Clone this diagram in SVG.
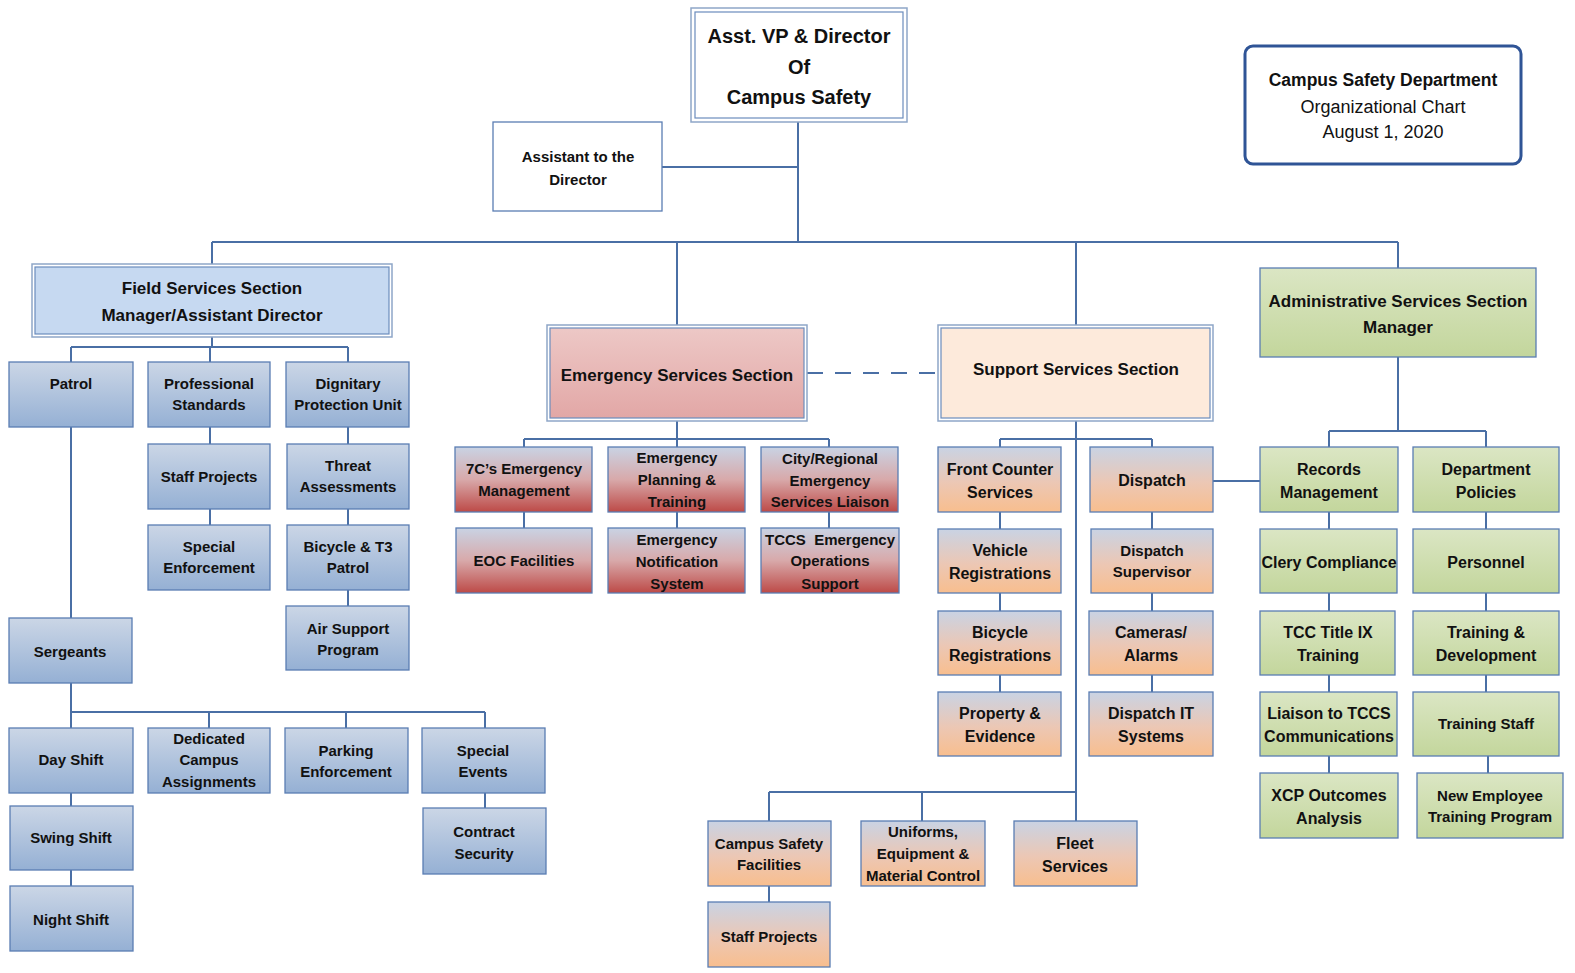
<svg xmlns="http://www.w3.org/2000/svg" width="1575" height="973" viewBox="0 0 1575 973">
<defs>
<linearGradient id="gBlue" x1="0" y1="0" x2="0" y2="1"><stop offset="0" stop-color="#cbd6e6"/><stop offset="1" stop-color="#95b0d4"/></linearGradient>
<linearGradient id="gRed" x1="0" y1="0" x2="0" y2="1"><stop offset="0" stop-color="#c9d3e4"/><stop offset="0.5" stop-color="#d8a9aa"/><stop offset="1" stop-color="#bd4a47"/></linearGradient>
<linearGradient id="gOrange" x1="0" y1="0" x2="0" y2="1"><stop offset="0" stop-color="#c9d3e4"/><stop offset="0.55" stop-color="#ecc7b4"/><stop offset="1" stop-color="#f8be8e"/></linearGradient>
<linearGradient id="gGreen" x1="0" y1="0" x2="0" y2="1"><stop offset="0" stop-color="#dbe6c4"/><stop offset="1" stop-color="#c3d69c"/></linearGradient>
<linearGradient id="gPink" x1="0" y1="0" x2="0" y2="1"><stop offset="0" stop-color="#edc8c6"/><stop offset="1" stop-color="#e2a7a6"/></linearGradient>
</defs>
<style>
text{font-family:"Liberation Sans",Arial,sans-serif;font-weight:bold;fill:#111;text-anchor:middle}
.s{font-size:15px}
.m{font-size:16px}
.h{font-size:17px}
.t{font-size:20px}
.r{font-weight:normal}
.box{stroke:#5a7db3;stroke-width:1.3}
.blue{fill:url(#gBlue)}
.red{fill:url(#gRed)}
.org{fill:url(#gOrange)}
.grn{fill:url(#gGreen)}
.outer{fill:none;stroke:#8ea6c8;stroke-width:1.5}
.inner{stroke:#6b8cbd;stroke-width:1.2}
#connectors path{fill:none;stroke:#4a6fa5;stroke-width:2}
</style>
<rect width="1575" height="973" fill="#fff"/>
<g id="connectors">
<path d="M798,122V242M662,167H798M212,242H1398M212,242V264M677,242V325M1076,242V325M1398,242V268"/>
<path d="M212,337V347M71,347H348M71,347V362M210,347V362M348,347V362"/>
<path d="M210,427V444M210,509V525M348,427V444M348,509V525M348,590V606"/>
<path d="M71,427V618M71,683V728M71,712H485M209,712V728M346,712V728M485,712V728M71,793V806M71,870V886M485,793V808"/>
<path d="M677,421V447M524,439H829M524,439V447M829,439V447M524,512V528M677,512V528M829,512V528"/>
<path d="M807,373H938" stroke-dasharray="16 12"/>
<path d="M1076,421V821M1000,439H1152M1000,439V447M1152,439V447M1000,512V529M1000,593V611M1000,675V692M1152,512V529M1152,593V611M1152,675V692"/>
<path d="M1213,481H1260"/>
<path d="M769,792H1076M769,792V821M922,792V821M769,886V902"/>
<path d="M1398,357V431M1329,431H1486M1329,431V447M1486,431V447M1329,512V529M1329,593V611M1329,675V692M1329,756V773M1486,512V529M1486,593V611M1486,675V692M1488,756V773"/>
</g>

<g id="title">
<rect x="1245" y="46" width="276" height="118" rx="8" fill="#fff" stroke="#2f5496" stroke-width="3"/>
<text x="1383" y="86" style="font-size:17.5px">Campus Safety Department</text>
<text x="1383" y="113" class="r" style="font-size:18px">Organizational Chart</text>
<text x="1383" y="138" class="r" style="font-size:18px">August 1, 2020</text>
</g>

<g id="director">
<rect x="691" y="8" width="216" height="114" class="outer"/>
<rect x="695" y="12" width="208" height="106" fill="#fff" class="inner"/>
<text x="799" y="43" class="t">Asst. VP &amp; Director</text>
<text x="799" y="74" class="t">Of</text>
<text x="799" y="104" class="t">Campus Safety</text>
</g>

<g id="assistant">
<rect x="493" y="122" width="169" height="89" fill="#fff" class="box"/>
<text x="578" y="162" class="s">Assistant to the</text>
<text x="578" y="185" class="s">Director</text>
</g>

<g id="field">
<rect x="32" y="264" width="360" height="73" class="outer"/>
<rect x="35" y="267" width="354" height="67" fill="#c6d9f1" class="inner"/>
<text x="212" y="294" class="h">Field Services Section</text>
<text x="212" y="321" class="h">Manager/Assistant Director</text>
</g>

<g id="patrol"><rect x="9" y="362" width="124" height="65" class="box blue"/><text x="71" y="389" class="s">Patrol</text></g>
<g id="prof"><rect x="148" y="362" width="122" height="65" class="box blue"/><text x="209" y="389" class="s">Professional</text><text x="209" y="410" class="s">Standards</text></g>
<g id="dignitary"><rect x="286" y="362" width="123" height="65" class="box blue"/><text x="348" y="389" class="s">Dignitary</text><text x="348" y="410" class="s">Protection Unit</text></g>
<g id="staffproj1"><rect x="148" y="444" width="122" height="65" class="box blue"/><text x="209" y="482" class="s">Staff Projects</text></g>
<g id="threat"><rect x="287" y="444" width="122" height="65" class="box blue"/><text x="348" y="471" class="s">Threat</text><text x="348" y="492" class="s">Assessments</text></g>
<g id="specialenf"><rect x="148" y="525" width="122" height="65" class="box blue"/><text x="209" y="552" class="s">Special</text><text x="209" y="573" class="s">Enforcement</text></g>
<g id="bicyclet3"><rect x="287" y="525" width="122" height="65" class="box blue"/><text x="348" y="552" class="s">Bicycle &amp; T3</text><text x="348" y="573" class="s">Patrol</text></g>
<g id="air"><rect x="286" y="606" width="123" height="64" class="box blue"/><text x="348" y="634" class="s">Air Support</text><text x="348" y="655" class="s">Program</text></g>
<g id="sergeants"><rect x="9" y="618" width="123" height="65" class="box blue"/><text x="70" y="657" class="s">Sergeants</text></g>
<g id="day"><rect x="9" y="728" width="124" height="65" class="box blue"/><text x="71" y="765" class="s">Day Shift</text></g>
<g id="dedicated"><rect x="148" y="728" width="122" height="65" class="box blue"/><text x="209" y="744" class="s">Dedicated</text><text x="209" y="765" class="s">Campus</text><text x="209" y="787" class="s">Assignments</text></g>
<g id="parking"><rect x="285" y="728" width="123" height="65" class="box blue"/><text x="346" y="756" class="s">Parking</text><text x="346" y="777" class="s">Enforcement</text></g>
<g id="events"><rect x="422" y="728" width="123" height="65" class="box blue"/><text x="483" y="756" class="s">Special</text><text x="483" y="777" class="s">Events</text></g>
<g id="swing"><rect x="10" y="806" width="123" height="64" class="box blue"/><text x="71" y="843" class="s">Swing Shift</text></g>
<g id="night"><rect x="10" y="886" width="123" height="65" class="box blue"/><text x="71" y="925" class="s">Night Shift</text></g>
<g id="contract"><rect x="423" y="808" width="123" height="66" class="box blue"/><text x="484" y="837" class="s">Contract</text><text x="484" y="859" class="s">Security</text></g>

<g id="emergency">
<rect x="547" y="325" width="260" height="96" class="outer"/>
<rect x="550" y="328" width="254" height="90" fill="url(#gPink)" class="inner"/>
<text x="677" y="381" class="h">Emergency Services Section</text>
</g>
<g id="7cs"><rect x="455" y="447" width="137" height="65" class="box red"/><text x="524" y="474" class="s">7C’s Emergency</text><text x="524" y="496" class="s">Management</text></g>
<g id="planning"><rect x="608" y="447" width="137" height="65" class="box red"/><text x="677" y="463" class="s">Emergency</text><text x="677" y="485" class="s">Planning &amp;</text><text x="677" y="507" class="s">Training</text></g>
<g id="city"><rect x="761" y="447" width="137" height="65" class="box red"/><text x="830" y="464" class="s">City/Regional</text><text x="830" y="486" class="s">Emergency</text><text x="830" y="507" class="s">Services Liaison</text></g>
<g id="eoc"><rect x="456" y="528" width="136" height="65" class="box red"/><text x="524" y="566" class="s">EOC Facilities</text></g>
<g id="notification"><rect x="608" y="528" width="137" height="65" class="box red"/><text x="677" y="545" class="s">Emergency</text><text x="677" y="567" class="s">Notification</text><text x="677" y="589" class="s">System</text></g>
<g id="tccs"><rect x="761" y="528" width="138" height="65" class="box red"/><text x="830" y="545" class="s" xml:space="preserve" style="white-space:pre">TCCS  Emergency</text><text x="830" y="566" class="s">Operations</text><text x="830" y="589" class="s">Support</text></g>

<g id="support">
<rect x="938" y="325" width="275" height="96" class="outer"/>
<rect x="941" y="328" width="269" height="90" fill="#fdeadb" class="inner"/>
<text x="1076" y="375" class="h">Support Services Section</text>
</g>
<g id="frontcounter"><rect x="938" y="447" width="123" height="65" class="box org"/><text x="1000" y="475" class="m">Front Counter</text><text x="1000" y="498" class="m">Services</text></g>
<g id="dispatch"><rect x="1090" y="447" width="123" height="65" class="box org"/><text x="1152" y="486" class="m">Dispatch</text></g>
<g id="vehicle"><rect x="938" y="529" width="123" height="64" class="box org"/><text x="1000" y="556" class="m">Vehicle</text><text x="1000" y="579" class="m">Registrations</text></g>
<g id="dispsup"><rect x="1091" y="529" width="122" height="64" class="box org"/><text x="1152" y="556" class="s">Dispatch</text><text x="1152" y="577" class="s">Supervisor</text></g>
<g id="bicyclereg"><rect x="938" y="611" width="123" height="64" class="box org"/><text x="1000" y="638" class="m">Bicycle</text><text x="1000" y="661" class="m">Registrations</text></g>
<g id="cameras"><rect x="1089" y="611" width="124" height="64" class="box org"/><text x="1151" y="638" class="m">Cameras/</text><text x="1151" y="661" class="m">Alarms</text></g>
<g id="property"><rect x="938" y="692" width="123" height="64" class="box org"/><text x="1000" y="719" class="m">Property &amp;</text><text x="1000" y="742" class="m">Evidence</text></g>
<g id="dispit"><rect x="1089" y="692" width="124" height="64" class="box org"/><text x="1151" y="719" class="m">Dispatch IT</text><text x="1151" y="742" class="m">Systems</text></g>
<g id="facilities"><rect x="708" y="821" width="123" height="65" class="box org"/><text x="769" y="849" class="s">Campus Safety</text><text x="769" y="870" class="s">Facilities</text></g>
<g id="uniforms"><rect x="861" y="821" width="124" height="65" class="box org"/><text x="923" y="837" class="s">Uniforms,</text><text x="923" y="859" class="s">Equipment &amp;</text><text x="923" y="881" class="s">Material Control</text></g>
<g id="fleet"><rect x="1014" y="821" width="123" height="65" class="box org"/><text x="1075" y="849" class="m">Fleet</text><text x="1075" y="872" class="m">Services</text></g>
<g id="staffproj2"><rect x="708" y="902" width="122" height="65" class="box org"/><text x="769" y="942" class="s">Staff Projects</text></g>

<g id="admin">
<rect x="1260" y="268" width="276" height="89" class="box grn"/>
<text x="1398" y="307" class="h">Administrative Services Section</text>
<text x="1398" y="333" class="h">Manager</text>
</g>
<g id="records"><rect x="1260" y="447" width="138" height="65" class="box grn"/><text x="1329" y="475" class="m">Records</text><text x="1329" y="498" class="m">Management</text></g>
<g id="policies"><rect x="1413" y="447" width="146" height="65" class="box grn"/><text x="1486" y="475" class="m">Department</text><text x="1486" y="498" class="m">Policies</text></g>
<g id="clery"><rect x="1260" y="529" width="137" height="64" class="box grn"/><text x="1329" y="568" class="m">Clery Compliance</text></g>
<g id="personnel"><rect x="1413" y="529" width="146" height="64" class="box grn"/><text x="1486" y="568" class="m">Personnel</text></g>
<g id="titleix"><rect x="1260" y="611" width="135" height="64" class="box grn"/><text x="1328" y="638" class="m">TCC Title IX</text><text x="1328" y="661" class="m">Training</text></g>
<g id="training"><rect x="1413" y="611" width="146" height="64" class="box grn"/><text x="1486" y="638" class="m">Training &amp;</text><text x="1486" y="661" class="m">Development</text></g>
<g id="liaison"><rect x="1260" y="692" width="137" height="64" class="box grn"/><text x="1329" y="719" class="m">Liaison to TCCS</text><text x="1329" y="742" class="m">Communications</text></g>
<g id="trainingstaff"><rect x="1413" y="692" width="146" height="64" class="box grn"/><text x="1486" y="729" class="s">Training Staff</text></g>
<g id="xcp"><rect x="1260" y="773" width="138" height="65" class="box grn"/><text x="1329" y="801" class="m">XCP Outcomes</text><text x="1329" y="824" class="m">Analysis</text></g>
<g id="newemp"><rect x="1417" y="773" width="146" height="65" class="box grn"/><text x="1490" y="801" class="s">New Employee</text><text x="1490" y="822" class="s">Training Program</text></g>
</svg>
